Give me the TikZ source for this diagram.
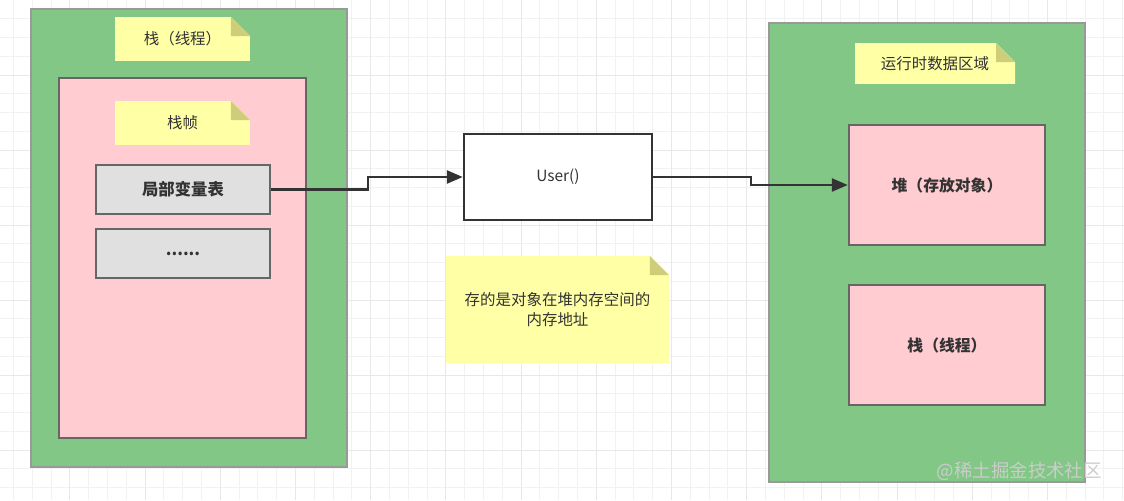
\documentclass[tikz,border=0pt]{standalone}
\usepackage{fontspec}
\setmainfont{Noto Sans CJK SC}
\usepackage{xcolor}
\usepackage{tikz}
\usetikzlibrary{arrows.meta}
\definecolor{grnF}{HTML}{82C785}
\definecolor{pnkF}{HTML}{FFCCD1}
\definecolor{gryF}{HTML}{E0E0E0}
\definecolor{ntY}{HTML}{FFFFA6}
\definecolor{fldY}{HTML}{CDCD7A}
\definecolor{txt}{HTML}{333333}

\begin{document}
\begin{tikzpicture}[x=0.02cm, y=-0.02cm, font=\fontsize{8.8}{11.3}\selectfont, text=txt,
  box/.style={draw=#1, line width=1.4pt, inner sep=2pt, align=center},
  G/.style={box=black!40, fill=grnF, minimum width=6.32cm},
  P/.style={box=black!60, fill=pnkF, font=\fontsize{9}{11.3}\selectfont\bfseries},
  Q/.style={box=black!60, fill=gryF, minimum width=3.48cm, minimum height=0.98cm, font=\fontsize{9.3}{11.3}\selectfont\bfseries},
  nt/.style={inner sep=2pt, align=center, path picture={
    \fill[ntY] (path picture bounding box.south west) -- (path picture bounding box.north west)
      -- ([shift={(-19,0)}]path picture bounding box.north east) -- ([shift={(0,19)}]path picture bounding box.north east)
      -- (path picture bounding box.south east) -- cycle;
    \fill[fldY] ([shift={(-19,0)}]path picture bounding box.north east) -- ([shift={(-19,19)}]path picture bounding box.north east)
      -- ([shift={(0,19)}]path picture bounding box.north east) -- cycle;}},
  a/.style={-{Triangle[length=0.32cm, width=0.26cm]}, line width=1.4pt, draw=black!80}]
 % canvas + grid
 \useasboundingbox (0,0) rectangle (1124,500);
 \fill[white] (0,0) rectangle (1124,500);
 \foreach \i in {0,...,59} \draw[black!5, line width=0.5pt] (13.5+\i*18.8,0) -- ++(0,500);
 \foreach \j in {1,...,26} \draw[black!5, line width=0.5pt] (0,\j*18.75) -- ++(1124,0);
 \foreach \i in {0,...,14} \draw[black!9, line width=0.5pt] (-5.3+\i*75.2,0) -- ++(0,500);
 \foreach \j in {1,...,6} \draw[black!9, line width=0.5pt] (0,\j*75) -- ++(1124,0);
 % left: thread stack
 \node[G, minimum height=9.16cm] (gL) at (189,238) {};
 \node[nt, minimum width=2.7cm, minimum height=0.88cm] (n1) at (182.5,39) {栈（线程）};
 \node[P, minimum width=4.94cm, minimum height=7.2cm] (fr) at (182.5,258) {};
 \node[nt, minimum width=2.7cm, minimum height=0.88cm] (n2) at (182.5,123) {栈帧};
 \node[Q] (lv) at (183,189.5) {局部变量表};
 \node[Q] (dt) at (183,253.5) {......};
 % middle
 \node[box=black!80, fill=white, minimum width=3.76cm, minimum height=1.72cm] (usr) at (558,177) {User()};
 \node[nt, minimum width=4.46cm, minimum height=2.14cm] (n3) at (557.5,309.5) {存的是对象在堆内存空间的\\内存地址};
 % right: runtime data area
 \node[G, minimum height=9.18cm] (gR) at (927,252.5) {};
 \node[nt, minimum width=3.2cm, minimum height=0.82cm] (n4) at (935,63.5) {运行时数据区域};
 \node[P, minimum width=3.92cm, minimum height=2.4cm] (hp) at (947,185) {堆（存放对象）};
 \node[P, minimum width=3.92cm, minimum height=2.4cm] (sk) at (947,345) {栈（线程）};
 \draw[a] (lv.east) -- ++(97,0) |- (usr.west);
 \draw[a] (usr.east) -- ++(98,0) |- (hp.west);
 \node[anchor=east, text=white!80!black, font=\fontsize{10.5}{12}\selectfont] (wm) at (1108,471) {@稀土掘金技术社区};
\end{tikzpicture}
\end{document}
